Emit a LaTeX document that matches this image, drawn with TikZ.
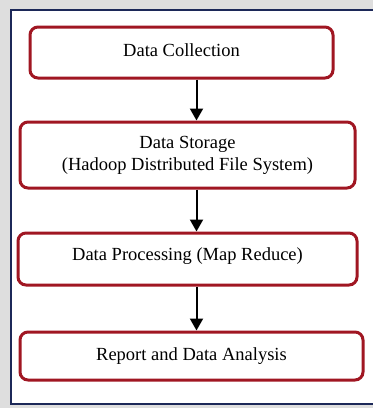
\documentclass[tikz,border=0pt]{standalone}
\usepackage{fontspec}
\setmainfont{Liberation Serif}
\usetikzlibrary{arrows.meta}
\definecolor{pagegrey}{RGB}{222,222,222}
\definecolor{framenavy}{RGB}{28,40,88}
\definecolor{boxred}{RGB}{160,22,34}
\tikzset{
  stepbox/.style={draw=boxred, line width=3pt, rounded corners=8pt, fill=white,
    align=center, inner sep=0pt, font=\fontsize{18.5}{22}\selectfont},
  flowarrow/.style={draw=black, line width=2pt,
    -{Triangle[width=13pt,length=12pt]}},
}
\begin{document}
\begin{tikzpicture}[x=1pt,y=-1pt]
  % page background and outer frame
  \fill[pagegrey] (0,0) rectangle (373,408);
  \useasboundingbox (0,0) rectangle (373,408);
  \draw[framenavy, line width=2pt, fill=white] (11,10) rectangle (390,404);

  % process steps
  \node[stepbox, minimum width=303pt, minimum height=51pt] (b1) at (181.5,52.5)
    {\raisebox{5pt}{Data Collection}};
  \node[stepbox, minimum width=335pt, minimum height=66pt] (b2) at (187.5,155)
    {Data Storage\\(Hadoop Distributed File System)};
  \node[stepbox, minimum width=339pt, minimum height=52pt] (b3) at (187.5,259)
    {\raisebox{9pt}{Data Processing (Map Reduce)}};
  \node[stepbox, minimum width=343pt, minimum height=48pt] (b4) at (191.5,356)
    {\raisebox{2pt}{Report and Data Analysis}};

  % connectors
  \coordinate (ax) at (196.5,0);
  \draw[flowarrow] (b1.south -| ax) -- (b2.north -| ax);
  \draw[flowarrow] (b2.south -| ax) -- (b3.north -| ax);
  \draw[flowarrow] (b3.south -| ax) -- (b4.north -| ax);
\end{tikzpicture}
\end{document}
